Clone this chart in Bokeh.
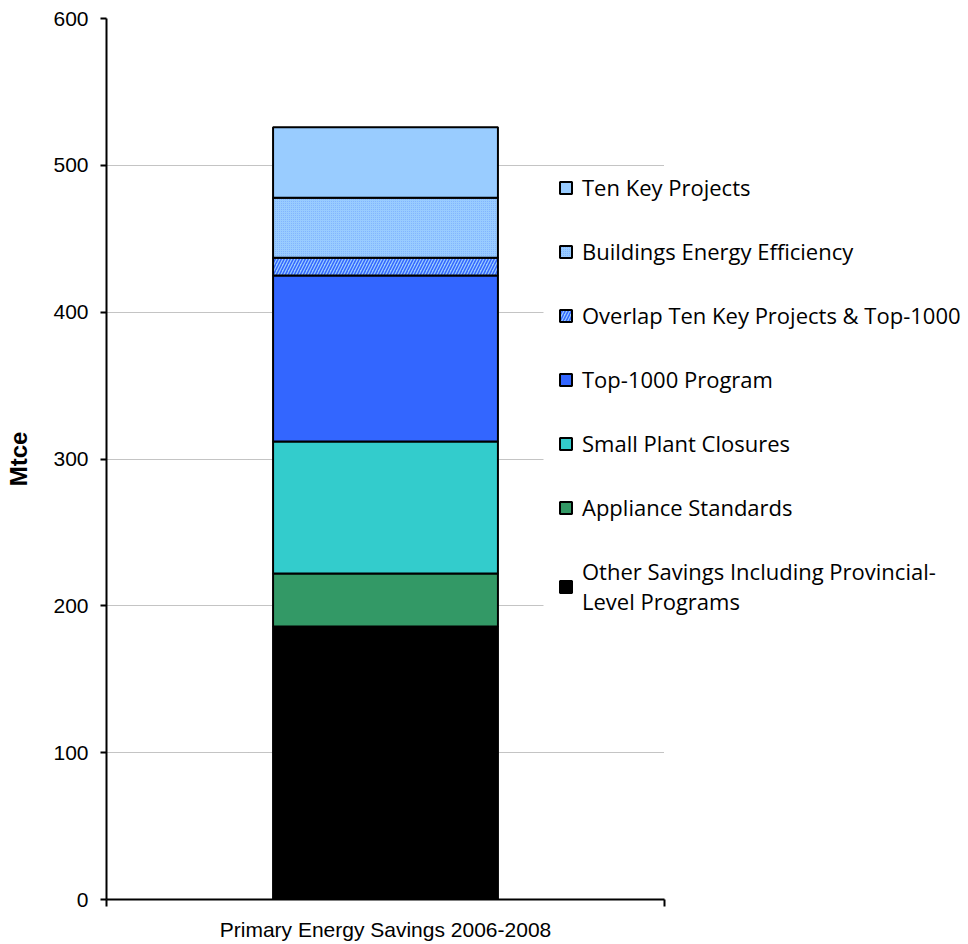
from bokeh.plotting import figure
from bokeh.models import Legend, LegendItem, FixedTicker, Range1d, BoxAnnotation
from bokeh.embed import file_html
from bokeh.resources import INLINE

# ---- data ----
category = "Primary Energy Savings 2006-2008"
series = [
    "Other Savings Including Provincial-\nLevel Programs",
    "Appliance Standards",
    "Small Plant Closures",
    "Top-1000 Program",
    "Overlap Ten Key Projects & Top-1000",
    "Buildings Energy Efficiency",
    "Ten Key Projects",
]
values = [186, 36, 90, 113, 12, 41, 48]   # Mtce
y_ticks = [0, 100, 200, 300, 400, 500, 600]

# ---- styles ----
fills = ["#000000", "#339966", "#33CCCC", "#3366FF", "#99CCFF", "#99CCFF", "#99CCFF"]
hatches = [None, None, None, None, "right_diagonal_line", "dot", None]
hatch_colors = ["black", "black", "black", "black", "#3366FF", "#6699FF", "black"]
hatch_scales = [12, 12, 12, 12, 6, 2, 12]

# frame spans the whole width to the right so the legend is not clipped;
# the chart itself lives in x = 0..1
x_end = 862.0 / 558.0
p = figure(width=968, height=944, output_backend="svg", toolbar_location=None,
           x_range=Range1d(0, x_end), y_range=Range1d(0, 600),
           min_border_left=106, min_border_right=0, min_border_top=18,
           min_border_bottom=45)
p.outline_line_color = None
p.background_fill_color = "white"

# grid lines restricted to the chart area
p.xgrid.grid_line_color = None
grid_done = False
try:
    p.ygrid[0].cross_bounds = (0, 1)
    grid_done = True
except Exception:
    grid_done = False
if grid_done:
    p.ygrid.ticker = FixedTicker(ticks=y_ticks)
    p.ygrid.grid_line_color = "#888888"
    p.ygrid.grid_line_dash = "1 1"
    p.ygrid.grid_line_width = 1
else:
    p.ygrid.grid_line_color = None
    p.segment(x0=[0] * len(y_ticks), x1=[1] * len(y_ticks), y0=y_ticks, y1=y_ticks,
              line_color="#888888", line_dash="1 1", line_width=1)

x_center = 0.5
renderers = []
bottom = 0
for name, v, fc, h, hc, hs in zip(series, values, fills, hatches, hatch_colors, hatch_scales):
    kw = {}
    if h:
        kw = dict(hatch_pattern=h, hatch_color=hc, hatch_scale=hs,
                  hatch_weight=1.5 if h != "dot" else 1.0,
                  hatch_alpha=1.0 if h != "dot" else 0.6)
    r = p.vbar(x=[x_center], width=0.403, bottom=[bottom], top=[bottom + v],
               fill_color=fc, line_color="black", line_width=2, **kw)
    renderers.append((name, r))
    bottom += v

# white margin to the left of the legend (the legend background covers the grid)
p.add_layout(BoxAnnotation(left=(543 - 106) / 558.0, right=1.0, bottom=190, top=490,
                           fill_color="white", fill_alpha=1.0, line_color=None,
                           level="annotation"))

# y axis
yax = p.yaxis[0]
yax.ticker = FixedTicker(ticks=y_ticks)
yax.axis_label = "Mtce"
yax.axis_label_text_font = "Liberation Sans"
yax.axis_label_text_font_style = "bold"
yax.axis_label_text_font_size = "24px"
yax.axis_label_text_color = "black"
yax.axis_label_standoff = 18
yax.major_label_text_font = "Liberation Sans"
yax.major_label_text_font_size = "21px"
yax.major_label_text_color = "black"
yax.major_label_standoff = 12
yax.major_tick_in = 0
yax.major_tick_out = 6
yax.major_tick_line_width = 2
yax.minor_tick_line_color = None
yax.axis_line_width = 2
yax.axis_line_color = "black"

# x axis
xax = p.xaxis[0]
xax.bounds = (0, 1)
xax.ticker = FixedTicker(ticks=[x_center], minor_ticks=[0, 1])
xax.major_label_overrides = {x_center: category}
xax.major_label_text_font = "Liberation Sans"
xax.major_label_text_font_size = "21px"
xax.major_label_text_color = "black"
xax.major_label_standoff = 11
xax.major_tick_out = 0
xax.major_tick_in = 0
xax.minor_tick_out = 7
xax.minor_tick_in = 0
xax.minor_tick_line_width = 2
xax.axis_line_width = 2
xax.axis_line_color = "black"

items = [LegendItem(label=n, renderers=[r]) for n, r in reversed(renderers)]
legend = Legend(items=items, location=(452, 283), orientation="vertical",
                label_text_font="Open Sans", label_text_font_size="22px",
                label_text_color="black",
                glyph_width=15, glyph_height=15, label_height=20,
                spacing=34, padding=15, margin=0, label_standoff=9,
                border_line_color=None, background_fill_color="white",
                background_fill_alpha=1.0)
p.add_layout(legend, "center")

open("out.html", "w").write(file_html(p, INLINE))
